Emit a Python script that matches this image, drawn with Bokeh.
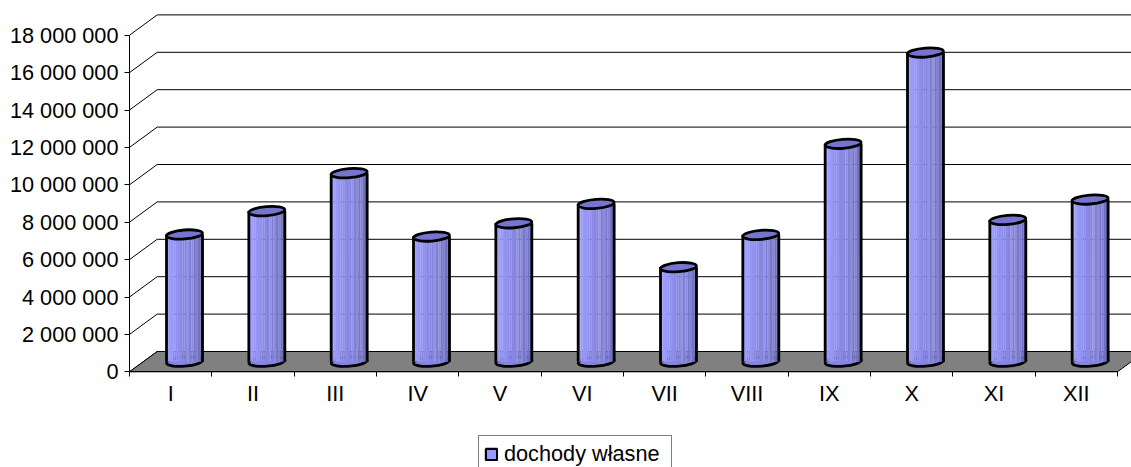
from bokeh.plotting import figure
from bokeh.models import ColumnDataSource, Range1d, FixedTicker, Legend, LegendItem
from bokeh.embed import file_html
from bokeh.resources import INLINE

# ---------------- data ----------------
categories = ["I", "II", "III", "IV", "V", "VI", "VII", "VIII", "IX", "X", "XI", "XII"]
values = [6800000, 8050000, 10080000, 6690000, 7400000, 8440000,
          5050000, 6780000, 11650000, 16530000, 7580000, 8670000]
y_ticks = [0, 2000000, 4000000, 6000000, 8000000, 10000000,
           12000000, 14000000, 16000000, 18000000]
y_tick_labels = ["0", "2 000 000", "4 000 000", "6 000 000", "8 000 000", "10 000 000",
                 "12 000 000", "14 000 000", "16 000 000", "18 000 000"]
series_name = "dochody własne"

# ---------------- geometry (pixels -> data units) ----------------
W, H = 1131, 467
X0_PX, Y0_PX = 129.0, 371.3   # screen position of the data origin
PX_X = 82.33            # px per category
PX_Y = 37.4 / 2e6       # px per unit value
x_start = -X0_PX / PX_X
x_end = (W - X0_PX) / PX_X
y_start = -(H - Y0_PX) / PX_Y
y_end = Y0_PX / PX_Y
DX = 27.7 / PX_X        # depth offset in x
DY = 20.3 / PX_Y        # depth offset in y
R = 18.0 / PX_X         # cylinder radius (x)
EH = 9.0 / PX_Y         # ellipse height (y)
ANG = 0.08
FONT = "Liberation Sans"
FS = "21.7px"
OUTLINE_W = 2.8

n = len(categories)

p = figure(width=W, height=H, output_backend="svg", toolbar_location=None,
           x_range=Range1d(x_start, x_end), y_range=Range1d(y_start, y_end),
           min_border_left=0, min_border_right=0, min_border_top=0, min_border_bottom=0,
           background_fill_color="white", border_fill_color="white")
p.outline_line_color = None
p.xgrid.visible = False
p.ygrid.visible = False

# ---------------- walls: gridlines ----------------
gx0 = [0.0 for t in y_ticks]
gy0 = [t for t in y_ticks]
gx1 = [DX for t in y_ticks]
gy1 = [t + DY for t in y_ticks]
p.segment(x0=gx0, y0=gy0, x1=gx1, y1=gy1, line_color="black", line_width=1)
p.segment(x0=gx1, y0=gy1, x1=[n + DX] * len(y_ticks), y1=gy1, line_color="black", line_width=1)

# ---------------- floor ----------------
p.patch(x=[0, n, n + DX, DX], y=[0, 0, DY, DY], fill_color="#808080",
        line_color="black", line_width=1)

# ---------------- cylinders ----------------
cx = [i + 0.5 + DX / 2 for i in range(n)]
base = [DY / 2] * n
tops = [v + DY / 2 for v in values]

strip_colors = ["#A0A0FF", "#9C9CFB", "#9898F7", "#9595F3", "#9191EF", "#8E8EEB",
                "#8B8BE7", "#8888E3", "#8585DF", "#9393E4", "#7F7FD6", "#8D8DDB",
                "#7777CB", "#8383CF", "#7171C3", "#6B6BBA"]
ns = len(strip_colors)
sw = 2 * R / ns
sl, sr, sb, st, sc = [], [], [], [], []
for i in range(n):
    for j in range(ns):
        sl.append(cx[i] - R + j * sw)
        sr.append(cx[i] - R + (j + 1) * sw + 0.002)
        sb.append(base[i])
        st.append(tops[i])
        sc.append(strip_colors[j])
strips = ColumnDataSource(dict(left=sl, right=sr, bottom=sb, top=st, color=sc))

# bottom ellipse
p.ellipse(x=cx, y=base, width=2 * R, height=EH, angle=ANG,
          fill_color="#8585DE", line_color="black", line_width=OUTLINE_W)
# body
p.quad(left="left", right="right", bottom="bottom", top="top", fill_color="color",
       line_color=None, source=strips)
# sides
p.segment(x0=[c - R for c in cx], y0=base, x1=[c - R for c in cx], y1=tops,
          line_color="black", line_width=OUTLINE_W)
p.segment(x0=[c + R for c in cx], y0=base, x1=[c + R for c in cx], y1=tops,
          line_color="black", line_width=OUTLINE_W)
# top ellipse
p.ellipse(x=cx, y=tops, width=2 * R, height=EH, angle=ANG,
          fill_color="#7575CD", line_color="black", line_width=OUTLINE_W)

# ---------------- axes ----------------
ya = p.yaxis[0]
ya.fixed_location = 0
ya.ticker = FixedTicker(ticks=y_ticks, minor_ticks=[])
ya.major_label_overrides = dict(zip(y_ticks, y_tick_labels))
ya.bounds = (y_ticks[0], y_ticks[-1])
ya.major_tick_in = 0
ya.major_tick_out = 5
ya.minor_tick_in = 0
ya.minor_tick_out = 0
ya.axis_line_color = "black"
ya.major_tick_line_color = "black"
ya.major_label_text_font = FONT
ya.major_label_text_font_size = FS
ya.major_label_text_color = "black"
ya.major_label_standoff = 6

xa = p.xaxis[0]
xa.fixed_location = 0
centers = [i + 0.5 for i in range(n)]
xa.ticker = FixedTicker(ticks=centers, minor_ticks=list(range(n + 1)))
xa.major_label_overrides = dict(zip(centers, categories))
xa.bounds = (0, n)
xa.major_tick_in = 0
xa.major_tick_out = 0
xa.minor_tick_in = 0
xa.minor_tick_out = 5
xa.axis_line_color = "black"
xa.minor_tick_line_color = "black"
xa.major_label_text_font = FONT
xa.major_label_text_font_size = FS
xa.major_label_text_color = "black"
xa.major_label_standoff = 4

# ---------------- legend ----------------
# legend swatch renderer (one row of NaN, so nothing is drawn in the plot area)
swatch = ColumnDataSource(dict(left=[float("nan")], right=[float("nan")],
                               top=[float("nan")], bottom=[float("nan")]))
dummy = p.quad(left="left", right="right", top="top", bottom="bottom", source=swatch,
               fill_color="#9999FF", line_color="black", line_width=2.2)
legend = Legend(items=[LegendItem(label=series_name, renderers=[dummy])],
                location=(478, -6), glyph_width=14, glyph_height=14,
                label_text_font=FONT, label_text_font_size=FS, label_text_color="black",
                border_line_color="black", border_line_width=1, padding=5, margin=0,
                label_standoff=6, label_width=162, label_height=22,
                background_fill_color="white", background_fill_alpha=1)
p.add_layout(legend, "center")

open("out.html", "w").write(file_html(p, INLINE))
